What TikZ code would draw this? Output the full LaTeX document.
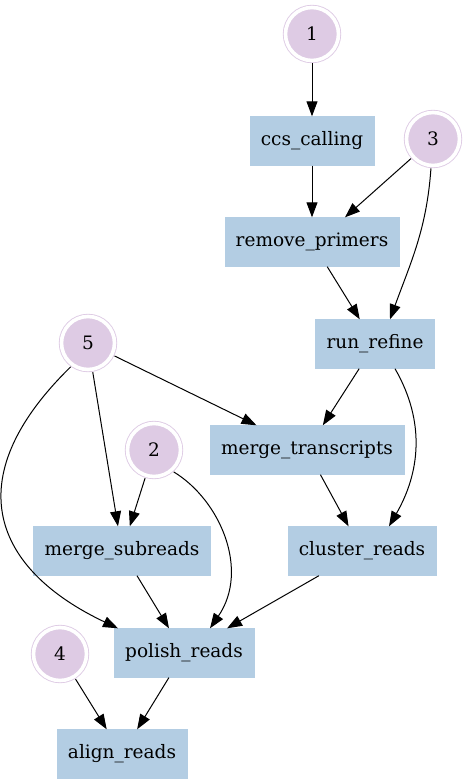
\documentclass[tikz,border=0pt]{standalone}
\usepackage{fontspec}
\setmainfont{DejaVu Serif}
\usetikzlibrary{arrows.meta}
\definecolor{stepblue}{HTML}{B3CDE3}
\definecolor{inputpurple}{HTML}{DECBE4}
\tikzstyle{block} = [rectangle, fill=stepblue, draw=stepblue,
    minimum height=49pt, inner xsep=11pt, inner ysep=0pt,
    font=\fontsize{18.5}{22}\selectfont]
\tikzstyle{input} = [circle, fill=inputpurple, draw=inputpurple, line width=0.9pt,
    double=white, double distance=3.6pt, minimum size=53pt, inner sep=0pt,
    outer sep=3pt, font=\fontsize{18.5}{22}\selectfont]
\tikzstyle{line} = [draw, line width=1pt, -{Triangle[length=15pt,width=11pt]}]

\begin{document}
\begin{tikzpicture}[x=1pt, y=-1pt]
    \useasboundingbox (0,0) rectangle (468,784);
    % Place nodes
    \node [input] (in1) at (312,34) {1};
    \node [block] (ccs) at (312,141) {ccs\_calling};
    \node [input] (in3) at (433,139) {3};
    \node [block] (primers) at (312,242) {remove\_primers};
    \node [block] (refine) at (375,344) {run\_refine};
    \node [input] (in5) at (88,343) {5};
    \node [block] (transcripts) at (307,450) {merge\_transcripts};
    \node [input] (in2) at (154,450) {2};
    \node [block] (subreads) at (122,551) {merge\_subreads};
    \node [block] (cluster) at (362,551) {cluster\_reads};
    \node [block] (polish) at (184,653) {polish\_reads};
    \node [input] (in4) at (60,654) {4};
    \node [block] (align) at (122,754) {align\_reads};
    % Draw edges
    \path [line] (in1) -- (ccs);
    \path [line] (ccs) -- (primers);
    \path [line] (in3) -- ([xshift=33pt]primers.north);
    \path [line] (in3) to[out=-94, in=70] ([xshift=15pt]refine.north);
    \path [line] (primers) -- (refine);
    \path [line] (refine) -- (transcripts);
    \path [line] ([xshift=20pt]refine.south) to[out=-60, in=60] ([xshift=27pt]cluster.north);
    \path [line] (in5) -- (transcripts);
    \path [line] (in5) -- (subreads);
    \path [line] (in5.-126) .. controls (-45,480) and (-5,570) .. ([xshift=-66pt]polish.north);
    \path [line] (in2) -- (subreads);
    \path [line] (in2.-48) .. controls (220,500) and (250,570) .. ([xshift=26pt]polish.north);
    \path [line] (transcripts) -- (cluster);
    \path [line] (subreads) -- (polish);
    \path [line] (cluster) -- (polish);
    \path [line] (polish) -- (align);
    \path [line] (in4) -- (align);
\end{tikzpicture}
\end{document}
